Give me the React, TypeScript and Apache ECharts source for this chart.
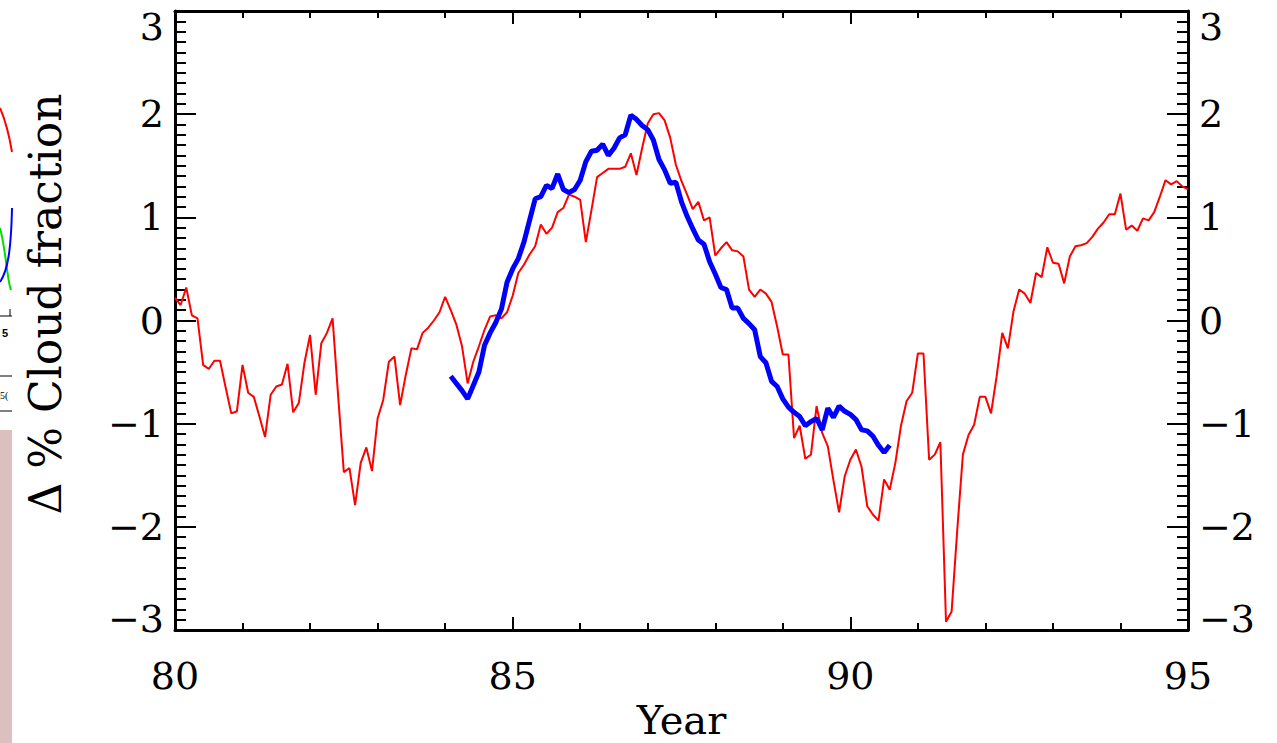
import React, { useEffect, useRef } from "react";
import * as echarts from "echarts";

// Monthly red series, starting at year 80.0
const redStart = 80;
const monthStep = 1 / 12;
const redValues: number[] = [
  0.22, 0.15, 0.32, 0.05, 0.02, -0.43, -0.47, -0.39, -0.39, -0.65,
  -0.9, -0.88, -0.43, -0.7, -0.74, -0.93, -1.13, -0.72, -0.64, -0.62,
  -0.42, -0.89, -0.8, -0.41, -0.14, -0.72, -0.22, -0.12, 0.02, -0.74,
  -1.47, -1.43, -1.79, -1.38, -1.23, -1.46, -0.95, -0.77, -0.4, -0.35,
  -0.82, -0.53, -0.27, -0.28, -0.12, -0.07, 0.0, 0.08, 0.23, 0.1,
  -0.04, -0.25, -0.61, -0.4, -0.25, -0.09, 0.04, 0.05, 0.02, 0.08,
  0.24, 0.46, 0.54, 0.64, 0.72, 0.93, 0.84, 0.9, 1.05, 1.09,
  1.22, 1.2, 1.17, 0.76, 1.07, 1.39, 1.43, 1.47, 1.47, 1.47,
  1.49, 1.62, 1.41, 1.67, 1.91, 2.0, 2.01, 1.94, 1.77, 1.51,
  1.35, 1.22, 1.08, 1.15, 0.97, 1.0, 0.63, 0.7, 0.76, 0.68,
  0.67, 0.62, 0.3, 0.23, 0.3, 0.26, 0.18, -0.06, -0.33, -0.33,
  -1.14, -1.02, -1.34, -1.3, -0.83, -1.09, -1.22, -1.55, -1.86, -1.51,
  -1.35, -1.25, -1.42, -1.8, -1.88, -1.94, -1.54, -1.64, -1.38, -1.02,
  -0.78, -0.7, -0.32, -0.32, -1.35, -1.3, -1.18, -2.92, -2.82, -2.03,
  -1.3, -1.11, -1.01, -0.74, -0.74, -0.9, -0.54, -0.12, -0.27, 0.09,
  0.3, 0.26, 0.17, 0.46, 0.42, 0.71, 0.56, 0.55, 0.36, 0.62,
  0.72, 0.73, 0.75, 0.81, 0.89, 0.95, 1.03, 1.03, 1.23, 0.88,
  0.92, 0.87, 0.99, 0.97, 1.05, 1.2, 1.36, 1.32, 1.35, 1.3,
  1.27,
];

// Monthly blue series, starting at year 84 + 1/12
const blueStart = 84 + 1 / 12;
const blueValues: number[] = [
  -0.54, -0.61, -0.68, -0.76, -0.63, -0.5, -0.24, -0.12, -0.02, 0.11,
  0.37, 0.5, 0.6, 0.76, 0.97, 1.18, 1.2, 1.31, 1.28, 1.42,
  1.27, 1.24, 1.27, 1.36, 1.54, 1.64, 1.65, 1.71, 1.6, 1.67,
  1.77, 1.8, 1.99, 1.95, 1.89, 1.85, 1.75, 1.56, 1.46, 1.33,
  1.34, 1.15, 1.01, 0.89, 0.78, 0.74, 0.57, 0.45, 0.32, 0.3,
  0.12, 0.12, 0.02, -0.03, -0.09, -0.35, -0.41, -0.59, -0.64, -0.76,
  -0.84, -0.89, -0.93, -1.02, -0.98, -0.95, -1.06, -0.85, -0.94, -0.83,
  -0.88, -0.91, -0.96, -1.06, -1.07, -1.12, -1.21, -1.28, -1.21,
];

const xMin = 80;
const xMax = 95;
const xInterval = 5;
const yMin = -3;
const yMax = 3;
const yInterval = 1;

const xTitle = "Year";
const yTitle = "Δ % Cloud fraction";

const FONT = "DejaVu Serif";

function fmtY(v: number): string {
  const s = String(v).replace("-", "\u2212");
  if (v === yMax) return "{t|" + s + "}";
  if (v === yMin) return "{b|" + s + "}";
  return s;
}

export default function App() {
  const ref = useRef<HTMLDivElement>(null);

  useEffect(() => {
    if (!ref.current) return;
    const chart = echarts.init(ref.current, undefined, { renderer: "svg" });

    const redData = redValues.map((v, i) => [redStart + i * monthStep, v]);
    const blueData = blueValues.map((v, i) => [blueStart + i * monthStep, v]);

    const labelBase = {
      color: "#000",
      fontFamily: FONT,
      fontSize: 38,
    };
    const rich = {
      t: { ...labelBase, padding: [32, 0, 0, 0] },
      b: { ...labelBase, padding: [0, 0, 22, 0] },
    };

    const yAxisCommon = (pos: "left" | "right") => ({
      type: "value" as const,
      position: pos,
      min: yMin,
      max: yMax,
      interval: yInterval,
      axisLine: { show: true, onZero: false, lineStyle: { color: "#000", width: 3 } },
      axisTick: { show: true, inside: true, length: 21, lineStyle: { color: "#000", width: 2 } },
      minorTick: { show: true, splitNumber: 10, length: 11, lineStyle: { color: "#000", width: 2 } },
      splitLine: { show: false },
      axisLabel: {
        ...labelBase,
        margin: 11,
        formatter: fmtY,
        rich,
      },
    });

    const xAxisCommon = (pos: "bottom" | "top", showLabel: boolean) => ({
      type: "value" as const,
      position: pos,
      min: xMin,
      max: xMax,
      interval: xInterval,
      axisLine: { show: true, onZero: false, lineStyle: { color: "#000", width: 3 } },
      axisTick: { show: true, inside: true, length: 13, lineStyle: { color: "#000", width: 2 } },
      minorTick: { show: true, splitNumber: 5, length: 7, lineStyle: { color: "#000", width: 2 } },
      splitLine: { show: false },
      axisLabel: { ...labelBase, show: showLabel, margin: 27 },
    });

    chart.setOption({
      animation: false,
      backgroundColor: "#fff",
      grid: {
        left: 175,
        right: 89,
        top: 11,
        bottom: 113,
        containLabel: false,
        outerBoundsMode: "none",
      },
      xAxis: [
        {
          ...xAxisCommon("bottom", true),
          name: xTitle,
          nameLocation: "middle",
          nameGap: 68,
          nameTextStyle: { color: "#000", fontFamily: FONT, fontSize: 40, lineHeight: 40 },
        },
        xAxisCommon("top", false),
      ],
      yAxis: [yAxisCommon("left"), yAxisCommon("right")],
      series: [
        {
          type: "line",
          data: redData,
          xAxisIndex: 0,
          yAxisIndex: 0,
          showSymbol: false,
          symbol: "none",
          lineStyle: { color: "#ff0000", width: 2 },
          z: 2,
        },
        {
          type: "line",
          data: blueData,
          xAxisIndex: 0,
          yAxisIndex: 0,
          showSymbol: false,
          symbol: "none",
          lineStyle: { color: "#0000ff", width: 5 },
          z: 3,
        },
      ],
      graphic: [
        {
          type: "text",
          x: 45,
          y: 304,
          rotation: Math.PI / 2,
          style: {
            text: yTitle,
            fill: "#000",
            font: `44px "${FONT}"`,
            align: "center",
            verticalAlign: "middle",
          },
        },
        // cropped fragments of a neighbouring figure at the left edge
        {
          type: "rect",
          shape: { x: 0, y: 430, width: 12, height: 313 },
          style: { fill: "#dcc0c0" },
        },
        {
          type: "bezierCurve",
          shape: { x1: 0, y1: 108, x2: 12, y2: 152, cpx1: 6, cpy1: 122, cpx2: 10, cpy2: 140 },
          style: { stroke: "#ff0000", lineWidth: 2, fill: "none" },
        },
        {
          type: "bezierCurve",
          shape: { x1: 0, y1: 228, x2: 11, y2: 290, cpx1: 6, cpy1: 250, cpx2: 7, cpy2: 280 },
          style: { stroke: "#00dd00", lineWidth: 2, fill: "none" },
        },
        {
          type: "bezierCurve",
          shape: { x1: 0, y1: 282, x2: 12, y2: 208, cpx1: 8, cpy1: 270, cpx2: 11, cpy2: 250 },
          style: { stroke: "#0000ff", lineWidth: 2, fill: "none" },
        },
        {
          type: "line",
          shape: { x1: 0, y1: 316, x2: 12, y2: 316 },
          style: { stroke: "#000", lineWidth: 1 },
        },
        {
          type: "line",
          shape: { x1: 10, y1: 309, x2: 10, y2: 316 },
          style: { stroke: "#000", lineWidth: 1 },
        },
        {
          type: "text",
          x: 2,
          y: 333,
          style: { text: "5", fill: "#000", font: "bold 11px sans-serif", verticalAlign: "middle" },
        },
        {
          type: "line",
          shape: { x1: 0, y1: 376, x2: 12, y2: 376 },
          style: { stroke: "#000", lineWidth: 1 },
        },
        {
          type: "text",
          x: 0,
          y: 395,
          style: { text: "5(", fill: "#000", font: "10px serif", verticalAlign: "middle" },
        },
        {
          type: "line",
          shape: { x1: 0, y1: 411, x2: 12, y2: 411 },
          style: { stroke: "#000", lineWidth: 1 },
        },
      ],
    });

    return () => chart.dispose();
  }, []);

  return (
    <div
      ref={ref}
      style={{ position: "fixed", left: 0, top: 0, width: 1277, height: 743, background: "#fff" }}
    />
  );
}
